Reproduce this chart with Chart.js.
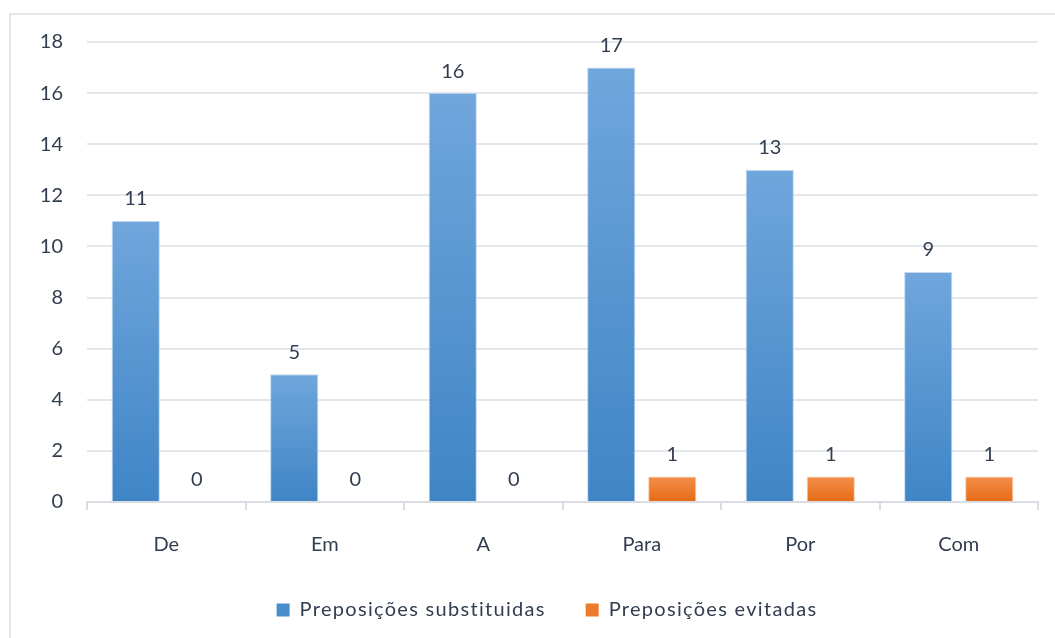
<!DOCTYPE html>
<html>
<head>
<meta charset="utf-8">
<script src="https://cdn.jsdelivr.net/npm/chart.js@4/dist/chart.umd.min.js"></script>
<style>
html,body{margin:0;padding:0;background:#fff;}
#wrap{position:relative;width:1055px;height:638px;}
</style>
</head>
<body>
<div id="wrap"><canvas id="c" width="1055" height="638"></canvas></div>
<script>
const categories = ['De', 'Em', 'A', 'Para', 'Por', 'Com'];
const substituidas = [11, 5, 16, 17, 13, 9];
const evitadas = [0, 0, 0, 1, 1, 1];
const seriesNames = ['Preposições substituidas', 'Preposições evitadas'];
const yTicks = [0, 2, 4, 6, 8, 10, 12, 14, 16, 18];

const TEXT = '#323d4f';
const FONT = 'Lato, "Open Sans", sans-serif';
const LEGEND_SHIFT_Y = 20;
const LEGEND_SHIFT_X = 28;
const LEGEND_SPACING = '1.3px';

function barGradient(top, bottom) {
  return function (ctx) {
    const chart = ctx.chart;
    if (!chart.chartArea || ctx.raw === undefined) return bottom;
    const ys = chart.scales.y;
    const y0 = ys.getPixelForValue(ctx.raw);
    const y1 = ys.getPixelForValue(0);
    if (y1 - y0 < 1) return bottom;
    const g = chart.ctx.createLinearGradient(0, y0, 0, y1);
    g.addColorStop(0, top);
    g.addColorStop(1, bottom);
    return g;
  };
}

const frame = {
  id: 'frame',
  beforeDraw(chart) {
    const c = chart.ctx;
    c.save();
    c.strokeStyle = '#e3e7ec';
    c.lineWidth = 2;
    c.beginPath();
    c.moveTo(10, 640);
    c.lineTo(10, 14);
    c.lineTo(1060, 14);
    c.stroke();
    c.restore();
  }
};

const legendTweak = {
  id: 'legendTweak',
  beforeInit(chart) {
    const lg = chart.legend;
    if (!lg) return;
    const fit0 = lg.fit.bind(lg);
    lg.fit = function () {
      const c = this.ctx;
      c.letterSpacing = LEGEND_SPACING;
      fit0();
      c.letterSpacing = '0px';
      this.height -= LEGEND_SHIFT_Y;
    };
    const draw0 = lg.draw.bind(lg);
    lg.draw = function () {
      const c = this.ctx;
      this.top -= LEGEND_SHIFT_Y;
      this.left += LEGEND_SHIFT_X; this.right += LEGEND_SHIFT_X;
      c.letterSpacing = LEGEND_SPACING;
      draw0();
      c.letterSpacing = '0px';
      this.top += LEGEND_SHIFT_Y;
      this.left -= LEGEND_SHIFT_X; this.right -= LEGEND_SHIFT_X;
    };
  }
};

const valueLabels = {
  id: 'valueLabels',
  afterDatasetsDraw(chart) {
    const c = chart.ctx;
    c.save();
    c.font = '20px ' + FONT;
    c.fillStyle = TEXT;
    c.textAlign = 'center';
    c.textBaseline = 'middle';
    chart.data.datasets.forEach((ds, i) => {
      chart.getDatasetMeta(i).data.forEach((bar, j) => {
        c.fillText(String(ds.data[j]), bar.x, bar.y - 22);
      });
    });
    c.restore();
  }
};

new Chart(document.getElementById('c'), {
  type: 'bar',
  data: {
    labels: categories,
    datasets: [
      {
        label: seriesNames[0],
        data: substituidas,
        backgroundColor: barGradient('#70a6dc', '#3f85c6'),
        borderColor: 'rgba(170,200,235,0.7)',
        borderWidth: 1,
        categoryPercentage: 0.77,
        barPercentage: 0.79
      },
      {
        label: seriesNames[1],
        data: evitadas,
        backgroundColor: barGradient('#f38e4a', '#e56b15'),
        borderColor: 'rgba(248,180,140,0.7)',
        borderWidth: 1,
        categoryPercentage: 0.77,
        barPercentage: 0.79
      }
    ]
  },
  options: {
    responsive: false,
    animation: false,
    devicePixelRatio: 1,
    layout: { padding: { left: 0, right: 17, top: 42, bottom: 8 } },
    plugins: {
      tooltip: { enabled: false },
      legend: {
        position: 'bottom',
        labels: {
          color: TEXT,
          font: { family: FONT, size: 20 },
          boxWidth: 13,
          boxHeight: 13,
          padding: 40,
          generateLabels(chart) {
            const cols = ['#4a8dcd', '#ec7a2c'];
            return chart.data.datasets.map((ds, i) => ({
              text: ds.label,
              fillStyle: cols[i],
              strokeStyle: cols[i],
              lineWidth: 0,
              hidden: false,
              datasetIndex: i,
              fontColor: TEXT
            }));
          }
        }
      }
    },
    scales: {
      x: {
        grid: {
          display: true,
          drawOnChartArea: false,
          drawTicks: true,
          tickLength: 8,
          color: '#d9dde3',
          lineWidth: 2,
          offset: true
        },
        border: { display: true, color: '#d9dde3', width: 2 },
        ticks: { color: TEXT, font: { family: FONT, size: 20 }, padding: 23 }
      },
      y: {
        min: 0,
        max: 18,
        afterBuildTicks(axis) {
          axis.ticks = yTicks.map(v => ({ value: v }));
        },
        afterFit(axis) { axis.width = 87; },
        grid: { color: '#e3e7ec', lineWidth: 2, drawTicks: false },
        border: { display: false },
        ticks: { color: TEXT, font: { family: FONT, size: 20 }, padding: 24 }
      }
    }
  },
  plugins: [legendTweak, frame, valueLabels]
});
</script>
</body>
</html>
